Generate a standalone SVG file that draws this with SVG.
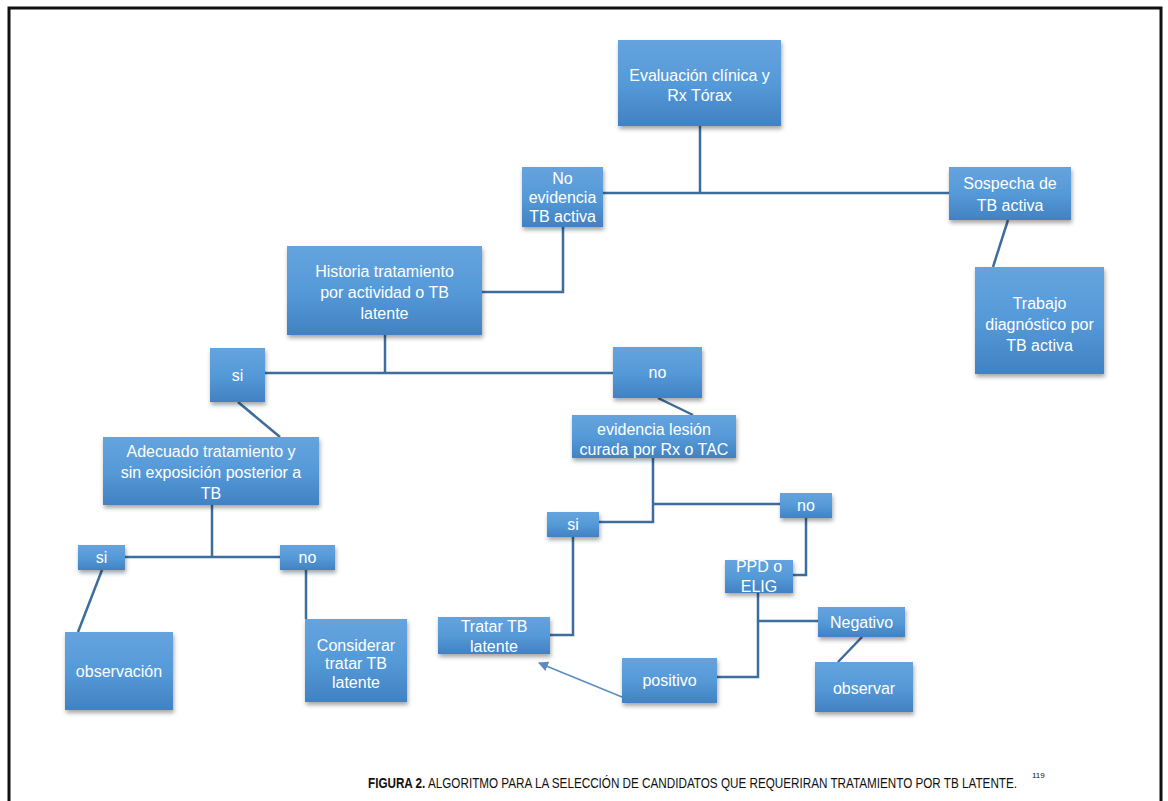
<svg xmlns="http://www.w3.org/2000/svg" width="1168" height="801" viewBox="0 0 1168 801">
<defs>
<linearGradient id="g" x1="0" y1="0" x2="0" y2="1">
<stop offset="0" stop-color="#65a3de"/>
<stop offset="0.5" stop-color="#559ad8"/>
<stop offset="1" stop-color="#4281c2"/>
</linearGradient>
<filter id="sh" x="-10%" y="-10%" width="130%" height="140%">
<feDropShadow dx="1" dy="3" stdDeviation="2" flood-color="#000" flood-opacity="0.35"/>
</filter>
<marker id="ah" markerWidth="10" markerHeight="10" refX="9" refY="5" orient="auto" markerUnits="userSpaceOnUse">
<path d="M0,0 L10,5 L0,10 z" fill="#5a8cc0"/>
</marker>
</defs>
<style>
.b{fill:url(#g);filter:url(#sh);}
.t{fill:#fff;font-family:"Liberation Sans",Arial,sans-serif;font-size:16px;text-anchor:middle;}
.c{fill:none;stroke:#3e6d9c;stroke-width:2.5;}
.cap{font-family:"Liberation Sans",Arial,sans-serif;font-size:15px;fill:#111;}
.sup{font-family:"Liberation Sans",Arial,sans-serif;font-size:8px;fill:#111;}
</style>
<rect width="1168" height="801" fill="#fff"/>
<path d="M9,801 V8 H1161 V801" fill="none" stroke="#111" stroke-width="3"/>

<g id="connectors">
<path class="c" d="M700,126 V193"/>
<path class="c" d="M603,193 H949"/>
<path class="c" d="M563,227 V292 H482"/>
<path class="c" d="M385,335 V373"/>
<path class="c" d="M265,373 H613"/>
<path class="c" d="M238,402 L280,437"/>
<path class="c" d="M658,398 L693,415"/>
<path class="c" d="M1008,220 L993,267"/>
<path class="c" d="M212,505 V557"/>
<path class="c" d="M125,557 H280"/>
<path class="c" d="M102,570 L78,632"/>
<path class="c" d="M306,570 V619"/>
<path class="c" d="M653,458 V522 H599"/>
<path class="c" d="M653,504 H780"/>
<path class="c" d="M806,518 V575 H793"/>
<path class="c" d="M573,537 V635 H550"/>
<path class="c" d="M758,593 V677 H717"/>
<path class="c" d="M758,621 H818"/>
<path class="c" d="M862,637 L838,662"/>
<path d="M622,697 L539,663" fill="none" stroke="#5a8cc0" stroke-width="1.5" marker-end="url(#ah)"/>
</g>

<g id="n1"><rect class="b" x="618" y="40" width="163" height="86"/>
<text class="t" x="699.5" y="81">Evaluación clínica y</text>
<text class="t" x="699.5" y="101">Rx Tórax</text></g>

<g id="n2"><rect class="b" x="522" y="167" width="81" height="60"/>
<text class="t" x="562.5" y="184">No</text>
<text class="t" x="562.5" y="203">evidencia</text>
<text class="t" x="562.5" y="222">TB activa</text></g>

<g id="n3"><rect class="b" x="949" y="167" width="122" height="53"/>
<text class="t" x="1010" y="189">Sospecha de</text>
<text class="t" x="1010" y="211">TB activa</text></g>

<g id="n4"><rect class="b" x="975" y="267" width="129" height="107"/>
<text class="t" x="1039.5" y="309">Trabajo</text>
<text class="t" x="1039.5" y="330">diagnóstico por</text>
<text class="t" x="1039.5" y="351">TB activa</text></g>

<g id="n5"><rect class="b" x="287" y="246" width="195" height="89"/>
<text class="t" x="384.5" y="277">Historia tratamiento</text>
<text class="t" x="384.5" y="298">por actividad o TB</text>
<text class="t" x="384.5" y="319">latente</text></g>

<g id="n6"><rect class="b" x="210" y="348" width="55" height="54"/>
<text class="t" x="237.5" y="381">si</text></g>

<g id="n7"><rect class="b" x="613" y="347" width="89" height="51"/>
<text class="t" x="657.5" y="378">no</text></g>

<g id="n8"><rect class="b" x="103" y="437" width="216" height="68"/>
<text class="t" x="211" y="457">Adecuado tratamiento y</text>
<text class="t" x="211" y="478">sin exposición posterior a</text>
<text class="t" x="211" y="499">TB</text></g>

<g id="n9"><rect class="b" x="572" y="415" width="164" height="43"/>
<text class="t" x="654" y="435">evidencia lesión</text>
<text class="t" x="654" y="455">curada por Rx o TAC</text></g>

<g id="n10"><rect class="b" x="78" y="545" width="47" height="25"/>
<text class="t" x="101.5" y="563">si</text></g>

<g id="n11"><rect class="b" x="280" y="545" width="55" height="25"/>
<text class="t" x="307.5" y="563">no</text></g>

<g id="n12"><rect class="b" x="65" y="632" width="108" height="78"/>
<text class="t" x="119" y="677">observación</text></g>

<g id="n13"><rect class="b" x="305" y="619" width="102" height="83"/>
<text class="t" x="356" y="651">Considerar</text>
<text class="t" x="356" y="669">tratar TB</text>
<text class="t" x="356" y="688">latente</text></g>

<g id="n14"><rect class="b" x="547" y="512" width="52" height="25"/>
<text class="t" x="573" y="530">si</text></g>

<g id="n15"><rect class="b" x="780" y="493" width="52" height="25"/>
<text class="t" x="806" y="511">no</text></g>

<g id="n16"><rect class="b" x="725" y="560" width="68" height="33"/>
<text class="t" x="759" y="572">PPD o</text>
<text class="t" x="759" y="592">ELIG</text></g>

<g id="n17"><rect class="b" x="438" y="617" width="112" height="37"/>
<text class="t" x="494" y="632">Tratar TB</text>
<text class="t" x="494" y="652">latente</text></g>

<g id="n18"><rect class="b" x="818" y="607" width="87" height="30"/>
<text class="t" x="861.5" y="628">Negativo</text></g>

<g id="n19"><rect class="b" x="622" y="658" width="95" height="45"/>
<text class="t" x="669.5" y="686">positivo</text></g>

<g id="n20"><rect class="b" x="815" y="662" width="98" height="50"/>
<text class="t" x="864" y="694">observar</text></g>

<g id="caption">
<g transform="translate(368,788) scale(0.78,1)">
<text class="cap" x="0" y="0"><tspan font-weight="bold">FIGURA 2.</tspan> ALGORITMO PARA LA SELECCIÓN DE CANDIDATOS QUE REQUERIRAN TRATAMIENTO POR TB LATENTE.</text>
</g>
<text class="sup" x="1032" y="778">119</text>
</g>
</svg>
